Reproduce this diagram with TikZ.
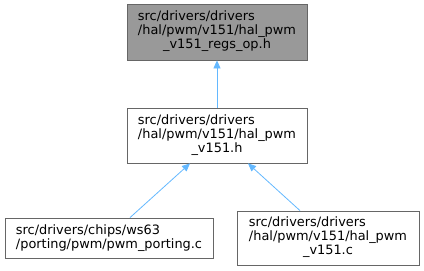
\documentclass[tikz,border=0pt]{standalone}
\usepackage{fontspec}
\setmainfont{DejaVu Sans}
\usetikzlibrary{arrows.meta}
\definecolor{edgeblue}{HTML}{63B8FF}
\definecolor{boxgray}{HTML}{999999}
\definecolor{boxline}{HTML}{666666}
\tikzset{
  filebox/.style={draw=boxline, line width=0.8pt, fill=white, inner sep=0pt, font=\fontsize{12.9}{14}\selectfont},
  arr/.style={draw=edgeblue, line width=0.8pt, {Triangle[width=7pt,length=8pt]}-}
}
\newcommand{\lab}[3]{\begin{tabular}{@{}l@{}}#1\\#2\\\multicolumn{1}{@{}c@{}}{#3}\end{tabular}}
\begin{document}
\begin{tikzpicture}[x=1pt,y=-1pt]
\useasboundingbox (0,0) rectangle (424,271);
\node[filebox, fill=boxgray, minimum width=180pt, minimum height=56pt] (top) at (217,32) {\lab{src/drivers/drivers}{/hal/pwm/v151/hal\_pwm}{\_v151\_regs\_op.h}};
\node[filebox, minimum width=180pt, minimum height=55pt] (mid) at (217,135.5) {\lab{src/drivers/drivers}{/hal/pwm/v151/hal\_pwm}{\_v151.h}};
\node[filebox, minimum width=208pt, minimum height=40pt, align=left] (bl) at (109,238) {src/drivers/chips/ws63\\/porting/pwm/pwm\_porting.c};
\node[filebox, minimum width=182pt, minimum height=54pt] (br) at (328,238) {\lab{src/drivers/drivers}{/hal/pwm/v151/hal\_pwm}{\_v151.c}};
\draw[arr] (top.south) -- (mid.north);
\draw[arr] ([xshift=-27pt]mid.south) -- ([xshift=21pt]bl.north);
\draw[arr] ([xshift=31pt]mid.south) -- ([xshift=-28pt]br.north);
\end{tikzpicture}
\end{document}
